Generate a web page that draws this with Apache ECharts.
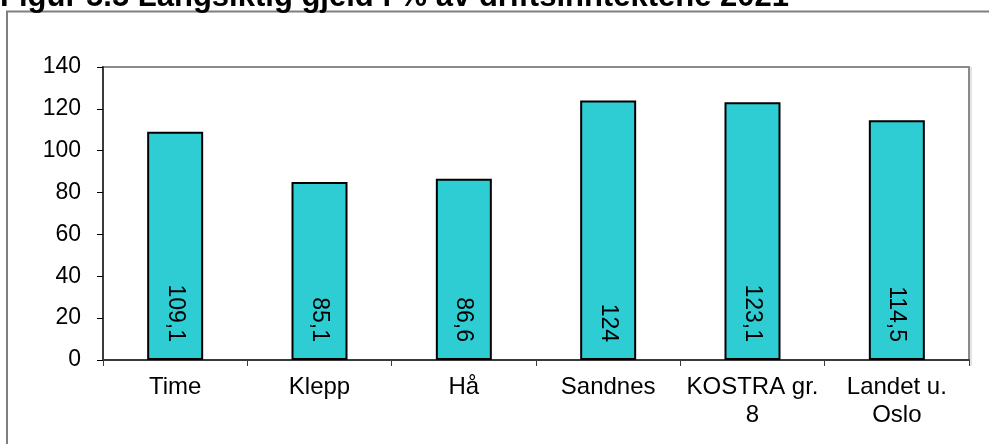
<!DOCTYPE html>
<html>
<head>
<meta charset="utf-8">
<script src="https://cdn.jsdelivr.net/npm/echarts@6/dist/echarts.min.js"></script>
<style>
html,body{margin:0;padding:0;background:#fff;}
#chart{width:989px;height:444px;}
</style>
</head>
<body>
<div id="chart"></div>
<script>
const titleText = 'Figur 5.5 Langsiktig gjeld i % av driftsinntektene 2021';
const categories = ['Time', 'Klepp', 'Hå', 'Sandnes', 'KOSTRA gr.\n8', 'Landet u.\nOslo'];
const values = [109.1, 85.1, 86.6, 124, 123.1, 114.5];
const yTicks = { min: 0, max: 140, interval: 20 };

const FONT = '"Liberation Sans", Arial, sans-serif';
const chart = echarts.init(document.getElementById('chart'), null, { renderer: 'canvas' });
chart.setOption({
  animation: false,
  backgroundColor: '#fff',
  graphic: [
    { type: 'rect', z: 0, shape: { x: 7, y: 11.5, width: 1100, height: 600 },
      style: { fill: 'none', stroke: '#7f7f7f', lineWidth: 2 } },
    { type: 'text', z: 10, x: 0, y: -3,
      style: { text: titleText, font: 'bold 31px ' + FONT, fill: '#000',
               textAlign: 'left', textVerticalAlign: 'middle' } },
    { type: 'line', z: 0, shape: { x1: 971, y1: 67, x2: 971, y2: 366 },
      style: { stroke: '#c8c8c8', lineWidth: 1 } }
  ],
  grid: { left: 103, right: 20, top: 67, bottom: 84, show: true,
          borderColor: '#8a8a8a', borderWidth: 2, backgroundColor: 'transparent' },
  xAxis: {
    type: 'category', data: categories, boundaryGap: true,
    axisLine: { show: true, lineStyle: { color: '#3a3a3a', width: 2 } },
    axisTick: { show: true, alignWithLabel: false, length: 6, lineStyle: { color: '#3a3a3a', width: 1 } },
    axisLabel: { color: '#000', fontFamily: FONT, fontSize: 24, lineHeight: 28, margin: 13, interval: 0 }
  },
  yAxis: {
    type: 'value', min: yTicks.min, max: yTicks.max, interval: yTicks.interval,
    splitLine: { show: false },
    axisLine: { show: true, lineStyle: { color: '#3a3a3a', width: 2 } },
    axisTick: { show: true, length: 6, lineStyle: { color: '#000', width: 1 } },
    axisLabel: { color: '#000', fontFamily: FONT, fontSize: 23, margin: 22 }
  },
  series: [{
    type: 'bar', data: values, barWidth: 56,
    itemStyle: { color: '#2ECCD3', borderColor: '#000', borderWidth: 2 },
    label: {
      show: true, position: 'insideBottom', distance: 18, rotate: -90,
      align: 'right', verticalAlign: 'middle',
      color: '#000', fontFamily: FONT, fontSize: 23,
      formatter: p => String(p.value).replace('.', ',')
    }
  }]
});
</script>
</body>
</html>
